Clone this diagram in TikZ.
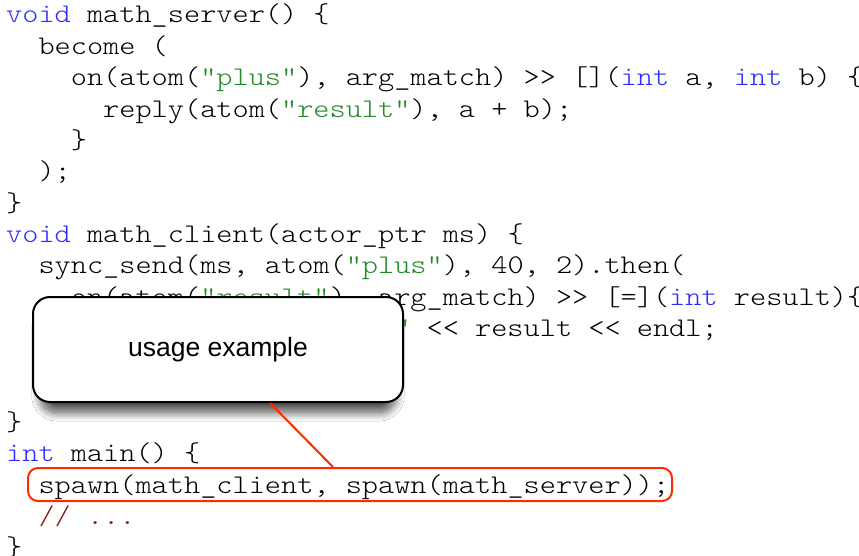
\documentclass[tikz,border=0pt]{standalone}
\usepackage{fontspec}
\setmonofont{lmmonolt10-regular.otf}[FakeStretch=1.143]
\setsansfont{Liberation Sans}
\usetikzlibrary{shadows.blur}
\definecolor{kwblue}{HTML}{2B2BFF}
\definecolor{strgreen}{HTML}{23892A}
\definecolor{cmtred}{HTML}{8E1C1C}
\definecolor{hlred}{HTML}{FF2A00}
\newcommand{\kw}[1]{\textcolor{kwblue}{#1}}
\newcommand{\codestr}[1]{\textcolor{strgreen}{#1}}
\newcommand{\cmt}[1]{\textcolor{cmtred}{#1}}
\begin{document}
\begin{tikzpicture}[x=1pt, y=-1pt,
  code/.style={anchor=base west, inner sep=0pt,
    font=\ttfamily\fontsize{26.95pt}{31pt}\selectfont},
  callout/.style={draw=black, line width=2pt, fill=white,
    rounded corners=17pt, minimum width=370pt, minimum height=105pt,
    font=\sffamily\fontsize{26.5pt}{30pt}\selectfont,
    blur shadow={shadow xshift=0pt, shadow yshift=-13pt, shadow scale=0.96,
      shadow blur radius=9pt, shadow blur steps=14, shadow opacity=70}},
  hlbox/.style={draw=hlred, line width=2pt, rounded corners=10pt,
    minimum width=644pt, minimum height=33pt, inner sep=0pt},
  conn/.style={draw=hlred, line width=2pt}]
\useasboundingbox (0,0) rectangle (859,556);
\fill[white] (0,0) rectangle (859,556);

% columns: x = 6 + 16.17*col ; baselines: y = 23 + 31.35*(line-1)
\node[code] (l1)  at (6,23)        {\kw{void} math\_server() \{};
\node[code] (l2)  at (38.34,54.35) {become (};
\node[code] (l3)  at (70.68,85.7)  {on(atom(\codestr{"plus"}), arg\_match) >> [](\kw{int} a, \kw{int} b) \{};
\node[code] (l4)  at (103.02,117.05) {reply(atom(\codestr{"result"}), a + b);};
\node[code] (l5)  at (70.68,148.4) {\}};
\node[code] (l6)  at (38.34,179.75) {);};
\node[code] (l7)  at (6,211.1)     {\}};
\node[code] (l8)  at (6,242.45)    {\kw{void} math\_client(actor\_ptr ms) \{};
\node[code] (l9)  at (38.34,273.8) {sync\_send(ms, atom(\codestr{"plus"}), 40, 2).then(};
\node[code] (l10) at (70.68,305.15) {on(atom(\codestr{"result"}), arg\_match) >> [=](\kw{int} result)\{};
\node[code] (l11) at (103.02,336.5) {cout << \codestr{"40 + 2 = "} << result << endl;};
\node[code] (l14) at (6,430.55)    {\}};
\node[code] (l15) at (6,461.9)     {\kw{int} main() \{};
\node[code] (l16) at (38.34,493.25) {spawn(math\_client, spawn(math\_server));};
\node[code] (l17) at (38.34,524.6) {\cmt{// ...}};
\node[code] (l18) at (6,555.95)    {\}};

% highlight round the spawn call
\node[hlbox] (hl) at (350,484.5) {};

% callout note
\node[callout] (note) at (218,349.5) {usage example};
\draw[conn] ([xshift=52pt]note.south) -- ([xshift=-17pt]hl.north);
\end{tikzpicture}
\end{document}
